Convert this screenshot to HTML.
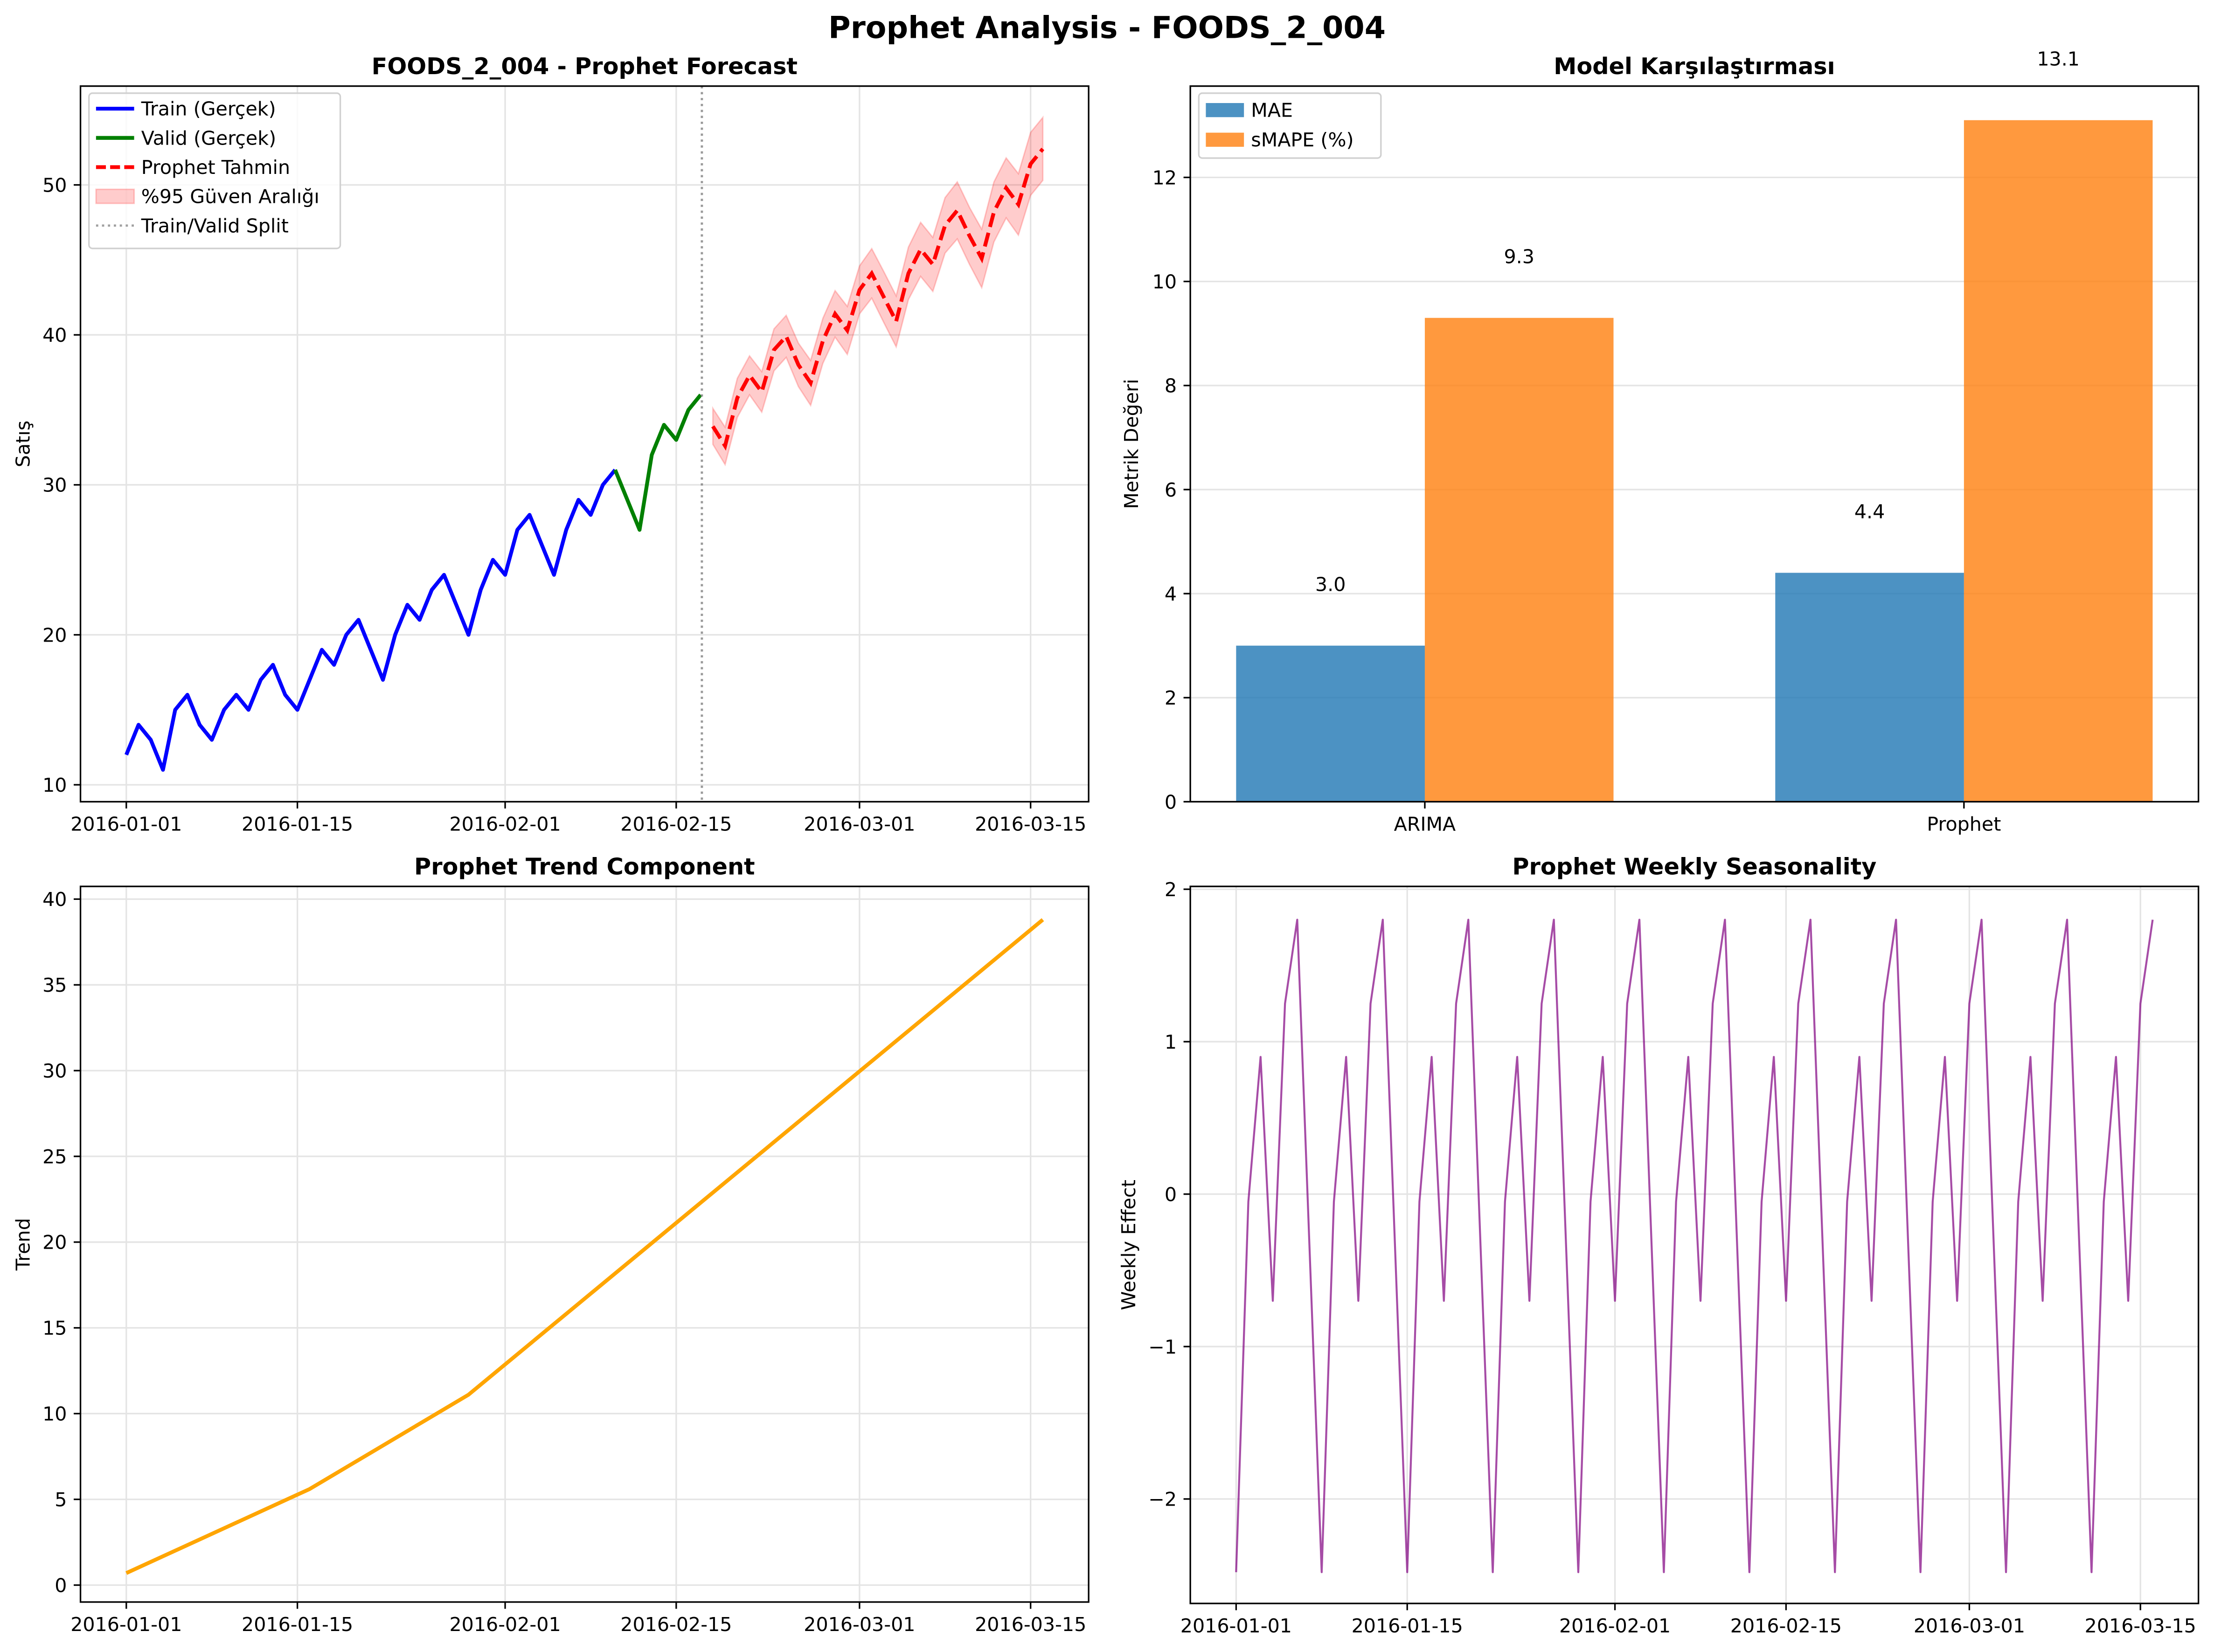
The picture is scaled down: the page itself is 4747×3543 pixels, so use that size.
<!DOCTYPE html>
<html><head><meta charset="utf-8"><style>
html,body{margin:0;padding:0;background:#fff}
svg{display:block}
text{font-family:"DejaVu Sans","Liberation Sans",sans-serif;fill:#000}
</style></head><body>
<svg id="fig" xmlns="http://www.w3.org/2000/svg" width="4747" height="3543" viewBox="0 0 1568 1170.4" preserveAspectRatio="none">
<rect x="0" y="0" width="1568" height="1170.4" fill="#fff"/>
<text x="784" y="27" font-size="21.5" font-weight="bold" text-anchor="middle">Prophet Analysis - FOODS_2_004</text>
</svg>
<script>
// ---------- data ----------
const trainValues=[12,14,13,11,15,16,14,13,15,16,15,17,18,16,15,17,19,18,20,21,19,17,20,22,21,23,24,22,20,23,25,24,27,28,26,24,27,29,28,30,31];
const validValues=[31,29,27,32,34,33,35,36];
const forecastValues=[33.9,32.6,35.8,37.3,36.2,39.0,39.9,38.0,36.8,39.6,41.4,40.3,43.0,44.1,42.5,40.9,44.1,45.7,44.7,47.3,48.3,46.6,45.1,48.2,49.8,48.7,51.4,52.4];
const ciHalf=[1.2,1.25,1.3,1.3,1.35,1.4,1.4,1.45,1.5,1.5,1.55,1.6,1.6,1.65,1.7,1.7,1.75,1.8,1.8,1.85,1.9,1.9,1.95,2.0,2.0,2.05,2.1,2.1];
const dateTicks=["2016-01-01","2016-01-15","2016-02-01","2016-02-15","2016-03-01","2016-03-15"];
const dateTickDays=[0,14,31,45,60,74];
const models=["ARIMA","Prophet"];
const maeValues=[3.0,4.4];
const smapeValues=[9.3,13.1];
const trendDays=[0,15,28,75];
const trendValues=[0.7,5.6,11.1,38.8];
const weeklyValues=[-2.48,-0.05,0.9,-0.7,1.25,1.8,-0.34,-2.48,-0.05,0.9,-0.7,1.25,1.8,-0.34,-2.48,-0.05,0.9,-0.7,1.25,1.8,-0.34,-2.48,-0.05,0.9,-0.7,1.25,1.8,-0.34,-2.48,-0.05,0.9,-0.7,1.25,1.8,-0.34,-2.48,-0.05,0.9,-0.7,1.25,1.8,-0.34,-2.48,-0.05,0.9,-0.7,1.25,1.8,-0.34,-2.48,-0.05,0.9,-0.7,1.25,1.8,-0.34,-2.48,-0.05,0.9,-0.7,1.25,1.8,-0.34,-2.48,-0.05,0.9,-0.7,1.25,1.8,-0.34,-2.48,-0.05,0.9,-0.7,1.25,1.8];

const FS=13.6, TFS=16.3;
const NS="http://www.w3.org/2000/svg";
const svg=document.getElementById('fig');
function el(tag,attrs,parent,txt){const e=document.createElementNS(NS,tag);for(const k in attrs)e.setAttribute(k,attrs[k]);if(txt!==undefined)e.textContent=txt;(parent||svg).appendChild(e);return e;}
function scale(d0,d1,p0,p1){return v=>p0+(v-d0)*(p1-p0)/(d1-d0);}

function makeAxes(name,L,T,R,B,xs,ys,yticks,ylab,title){
  const g=el('g',{},svg);
  
  
  const grid=el('g',{},g);
  
  
  yticks.forEach(t=>{const y=ys(t.v);
    el('line',{x1:L,x2:R,y1:y,y2:y,stroke:'#e4e4e4','stroke-width':1.1},grid);
    el('line',{x1:L-4.8,x2:L,y1:y,y2:y,stroke:'#000','stroke-width':1.1},g);
    const tx=el('text',{x:L-9.6,y:y+4.9,'font-size':FS,'text-anchor':'end'},g,t.l);
    
    
  });
  if(xs){dateTickDays.forEach((d,i)=>{const x=xs(d);
    el('line',{x1:x,x2:x,y1:T,y2:B,stroke:'#e4e4e4','stroke-width':1.1},grid);
    el('line',{x1:x,x2:x,y1:B,y2:B+4.8,stroke:'#000','stroke-width':1.1},g);
    const tx=el('text',{x:x,y:B+20.5,'font-size':FS,'text-anchor':'middle'},g,dateTicks[i]);
    
    
  });}
  const yl=el('text',{x:0,y:0,'font-size':FS,'text-anchor':'middle',transform:`translate(${ylab.x},${(T+B)/2}) rotate(-90)`},g,ylab.t);
  
  
  const tt=el('text',{x:(L+R)/2,y:T-8.5,'font-size':TFS,'font-weight':'bold','text-anchor':'middle'},g,title);
  
  
  const plot=el('g',{},g);
  const frame={g,plot,L,T,R,B};
  frame.finish=()=>{const f=el('rect',{x:L,y:T,width:R-L,height:B-T,fill:'none',stroke:'#000','stroke-width':1.1},g);
    };
  return frame;
}
function pts(xs,ys,days,vals){return vals.map((v,i)=>xs(days[i]).toFixed(2)+','+ys(v).toFixed(2)).join(' ');}

// ---------- panel 1: forecast ----------
{
const L=57,T=61,R=771,B=568;
const xs=scale(-3.75,78.75,L,R), ys=scale(10,50,556,131);
const ax=makeAxes('forecast-panel',L,T,R,B,xs,ys,[10,20,30,40,50].map(v=>({v,l:String(v)})),{x:21,t:'Satış'},'FOODS_2_004 - Prophet Forecast');
const trainDays=trainValues.map((_,i)=>i);
const validDays=validValues.map((_,i)=>40+i);
const fDays=forecastValues.map((_,i)=>48+i);
const up=forecastValues.map((v,i)=>v+ciHalf[i]), lo=forecastValues.map((v,i)=>v-ciHalf[i]);
const band=el('polygon',{points:pts(xs,ys,fDays,up)+' '+pts(xs,ys,fDays.slice().reverse(),lo.slice().reverse()),fill:'#ff0000','fill-opacity':0.2,stroke:'#ff0000','stroke-opacity':0.2,'stroke-width':1},ax.plot);


const tr=el('polyline',{points:pts(xs,ys,trainDays,trainValues),fill:'none',stroke:'#0000ff','stroke-width':2.7,'stroke-linejoin':'round'},ax.plot);


const va=el('polyline',{points:pts(xs,ys,validDays,validValues),fill:'none',stroke:'#008000','stroke-width':2.7,'stroke-linejoin':'round'},ax.plot);


const fc=el('polyline',{points:pts(xs,ys,fDays,forecastValues),fill:'none',stroke:'#ff0000','stroke-width':2.7,'stroke-dasharray':'10,4.3'},ax.plot);


const sx=xs(47.1);
const sp=el('line',{x1:sx,x2:sx,y1:T,y2:B,stroke:'#808080','stroke-opacity':0.8,'stroke-width':1.6,'stroke-dasharray':'1.6,2.6'},ax.plot);


ax.finish();
const lg=el('g',{},ax.g);


el('rect',{x:63,y:66,width:178,height:110,rx:2.5,fill:'#fff','fill-opacity':0.8,stroke:'#d0d0d0','stroke-width':1.1},lg);
const items=[['Train (Gerçek)','line','#0000ff',''],['Valid (Gerçek)','line','#008000',''],['Prophet Tahmin','line','#ff0000','7,3'],['%95 Güven Aralığı','patch','#ff0000',''],['Train/Valid Split','line','#a0a0a0','1.6,2.6']];
items.forEach((it,i)=>{const y=77+i*20.7;
  if(it[1]==='patch'){el('rect',{x:68,y:y-5,width:27,height:10,fill:'#ff0000','fill-opacity':0.2,stroke:'#ff0000','stroke-opacity':0.2},lg);}
  else el('line',{x1:68,x2:95,y1:y,y2:y,stroke:it[2],'stroke-width':i==4?1.6:2.7,'stroke-dasharray':it[3]},lg);
  const t=el('text',{x:100,y:y+4.8,'font-size':FS},lg,it[0]);
  
  
});
}

// ---------- panel 2: bar comparison ----------
{
const L=843,T=61,R=1557,B=568;
const xs=scale(-0.435,1.435,L,R), ys=scale(0,13.755,B,T);
const ax=makeAxes('comparison-panel',L,T,R,B,null,ys,[0,2,4,6,8,10,12].map(v=>({v,l:String(v)})),{x:806,t:'Metrik Değeri'},'Model Karşılaştırması');
const w=0.35;
models.forEach((m,i)=>{
  el('line',{x1:xs(i),x2:xs(i),y1:B,y2:B+4.8,stroke:'#000','stroke-width':1.1},ax.g);
  const t=el('text',{x:xs(i),y:B+20.5,'font-size':FS,'text-anchor':'middle'},ax.g,m);
  
  
  const b1=el('rect',{x:xs(i-w),y:ys(maeValues[i]),width:xs(i)-xs(i-w),height:ys(0)-ys(maeValues[i]),fill:'#1f77b4','fill-opacity':0.8},ax.plot);
  
  
  const b2=el('rect',{x:xs(i),y:ys(smapeValues[i]),width:xs(i+w)-xs(i),height:ys(0)-ys(smapeValues[i]),fill:'#ff7f0e','fill-opacity':0.8},ax.plot);
  
  
  const l1=el('text',{x:xs(i-w/2),y:ys(maeValues[i]+1.05),'font-size':FS,'text-anchor':'middle'},ax.g,maeValues[i].toFixed(1));
  
  
  const l2=el('text',{x:xs(i+w/2),y:ys(smapeValues[i]+1.05),'font-size':FS,'text-anchor':'middle'},ax.g,smapeValues[i].toFixed(1));
  
  
});
ax.finish();
const lg=el('g',{},ax.g);


el('rect',{x:849,y:66,width:129,height:46,rx:2.5,fill:'#fff','fill-opacity':0.8,stroke:'#d0d0d0','stroke-width':1.1},lg);
[['MAE','#1f77b4'],['sMAPE (%)','#ff7f0e']].forEach((it,i)=>{const y=78+i*21;
  el('rect',{x:854,y:y-5,width:27,height:10,fill:it[1],'fill-opacity':0.8},lg);
  const t=el('text',{x:886,y:y+4.8,'font-size':FS},lg,it[0]);
  
  
});
}

// ---------- panel 3: trend ----------
{
const L=57,T=628,R=771,B=1135;
const xs=scale(-3.75,78.75,L,R), ys=scale(0,40,1123,637);
const ax=makeAxes('trend-panel',L,T,R,B,xs,ys,[0,5,10,15,20,25,30,35,40].map(v=>({v,l:String(v)})),{x:21,t:'Trend'},'Prophet Trend Component');
const tl=el('polyline',{points:pts(xs,ys,trendDays,trendValues),fill:'none',stroke:'#ffa500','stroke-width':2.7,'stroke-linejoin':'round'},ax.plot);


ax.finish();
}

// ---------- panel 4: weekly seasonality ----------
{
const L=843,T=628,R=1557,B=1136;
const xs=scale(-3.75,78.75,L,R), ys=scale(-2,2,1062,630);
const ax=makeAxes('weekly-panel',L,T,R,B,xs,ys,[-2,-1,0,1,2].map(v=>({v,l:(v<0?'\u2212'+(-v):String(v))})),{x:804,t:'Weekly Effect'},'Prophet Weekly Seasonality');
const days=weeklyValues.map((_,i)=>i);
const wl=el('polyline',{points:pts(xs,ys,days,weeklyValues),fill:'none',stroke:'#800080','stroke-opacity':0.7,'stroke-width':1.4,'stroke-linejoin':'round'},ax.plot);


ax.finish();
}
</script>
</body></html>
